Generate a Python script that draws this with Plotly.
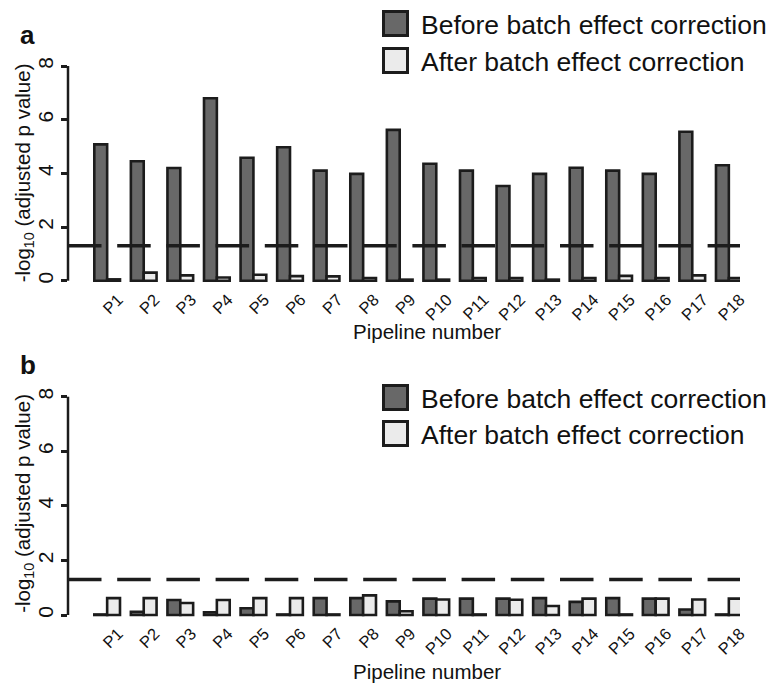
import plotly.graph_objects as go

# ---------------- data ----------------
pipelines = [f"P{i}" for i in range(1, 19)]

a_before = [5.08, 4.45, 4.2, 6.8, 4.58, 4.97, 4.1, 3.98, 5.62, 4.36, 4.1, 3.53, 3.98, 4.21, 4.1, 3.98, 5.55, 4.3]
a_after = [0.05, 0.3, 0.2, 0.12, 0.22, 0.17, 0.16, 0.1, 0.04, 0.04, 0.1, 0.1, 0.04, 0.1, 0.18, 0.1, 0.2, 0.1]

b_before = [0.02, 0.12, 0.55, 0.1, 0.25, 0.02, 0.62, 0.62, 0.5, 0.6, 0.6, 0.6, 0.62, 0.48, 0.62, 0.6, 0.2, 0.02]
b_after = [0.62, 0.62, 0.44, 0.55, 0.62, 0.62, 0.02, 0.72, 0.14, 0.57, 0.02, 0.56, 0.33, 0.6, 0.02, 0.6, 0.57, 0.6]

threshold = 1.3  # -log10(0.05)
y_ticks = [0, 2, 4, 6, 8]
series_names = ["Before batch effect correction", "After batch effect correction"]

# ---------------- styling ----------------
FONT = "Liberation Sans, Arial, Helvetica, sans-serif"
C_BEFORE = "#686868"
C_AFTER = "#ebebeb"
C_LINE = "#1c1c1c"
W, H = 774, 683
ML, MR, MT, MB = 68, 34, 63, 65
PH = H - MT - MB

def py2paper(py):
    return (H - MB - py) / PH

def px2paper(px):
    return (px - ML) / (W - ML - MR)

# panel geometry (pixel positions of value 0 and 8)
A0, A8 = 280.7, 66.0
B0, B8 = 615.0, 396.7
A_BOT, B_TOP = 284.0, 393.0

sa = (A0 - A8) / 8
sb = (B0 - B8) / 8
ya_range = [-(A_BOT - A0) / sa, 8 + (A8 - MT) / sa]
yb_range = [-(H - MB - B0) / sb, 8 + (B8 - B_TOP) / sb]

unit = 36.57
c0 = 107.15
x_range = [(ML - c0) / unit, (W - MR - c0) / unit]

fig = go.Figure()
for xa, ya, vb, va in [("x", "y", a_before, a_after), ("x2", "y2", b_before, b_after)]:
    fig.add_trace(go.Bar(x=pipelines, y=vb, name=series_names[0], xaxis=xa, yaxis=ya,
                         marker=dict(color=C_BEFORE, line=dict(color=C_LINE, width=2.6)),
                         showlegend=False))
    fig.add_trace(go.Bar(x=pipelines, y=va, name=series_names[1], xaxis=xa, yaxis=ya,
                         marker=dict(color=C_AFTER, line=dict(color=C_LINE, width=2.6)),
                         showlegend=False))

xcommon = dict(range=x_range, showline=False, showgrid=False, zeroline=False, ticks="",
               tickangle=-45, tickfont=dict(family=FONT, size=16.5, color="#111"),
               ticklabelshift=11, ticklabelstandoff=2)
ycommon = dict(showline=False, showgrid=False, zeroline=False, ticks="outside", ticklen=6,
               tickwidth=2.5, tickcolor=C_LINE, tickvals=y_ticks, tickangle=-90,
               tickfont=dict(family=FONT, size=21, color="#111"), ticklabelstandoff=0)

fig.update_layout(
    width=W, height=H,
    margin=dict(l=ML, r=MR, t=MT, b=MB),
    plot_bgcolor="white", paper_bgcolor="white",
    barmode="group", bargap=0.297, bargroupgap=0,
    xaxis=dict(domain=[0, 1], anchor="y", **xcommon),
    yaxis=dict(domain=[py2paper(A_BOT), 1], anchor="x", range=ya_range, **ycommon),
    xaxis2=dict(domain=[0, 1], anchor="y2", **xcommon),
    yaxis2=dict(domain=[0, py2paper(B_TOP)], anchor="x2", range=yb_range, **ycommon),
    showlegend=False,
)

shapes = []
for xd, yr in [("x domain", "y"), ("x2 domain", "y2")]:
    # y axis line (R style, from 0 to 8)
    shapes.append(dict(type="line", xref=xd, yref=yr, x0=0, x1=0, y0=y_ticks[0], y1=y_ticks[-1],
                       line=dict(color=C_LINE, width=2.5)))
    # significance threshold
    shapes.append(dict(type="line", xref=xd, yref=yr, x0=0, x1=1, y0=threshold, y1=threshold,
                       line=dict(color=C_LINE, width=3.5, dash="33.5px,15.7px")))

annotations = []
# legends (manual)
for rows in [(23.5, 60.5), (397.5, 433.5)]:
    for yc, color, name in zip(rows, [C_BEFORE, C_AFTER], series_names):
        shapes.append(dict(type="rect", xref="paper", yref="paper",
                           x0=px2paper(383.5), x1=px2paper(407.5),
                           y0=py2paper(yc + 12), y1=py2paper(yc - 12),
                           fillcolor=color, line=dict(color=C_LINE, width=3)))
        annotations.append(dict(text=name, xref="paper", yref="paper", x=px2paper(419),
                                y=py2paper(yc + 1), xanchor="left", yanchor="middle",
                                showarrow=False, font=dict(family=FONT, size=26.5, color="#111")))

# panel letters
for letter, yc in [("a", 35), ("b", 365)]:
    annotations.append(dict(text=f"<b>{letter}</b>", xref="paper", yref="paper",
                            x=px2paper(18), y=py2paper(yc), xanchor="left", yanchor="middle",
                            showarrow=False, font=dict(family=FONT, size=26, color="#111")))

# axis titles
for yc in [(A0 + A8) / 2, (B0 + B8) / 2 - 2]:
    annotations.append(dict(text="-log<sub>10</sub> (adjusted p value)", xref="paper", yref="paper",
                            x=px2paper(24), y=py2paper(yc), xanchor="center", yanchor="middle",
                            textangle=-90, showarrow=False,
                            font=dict(family=FONT, size=20.5, color="#111")))
for yc in [331, 671]:
    annotations.append(dict(text="Pipeline number", xref="paper", yref="paper",
                            x=px2paper(427), y=py2paper(yc), xanchor="center", yanchor="middle",
                            showarrow=False, font=dict(family=FONT, size=20.5, color="#111")))

fig.update_layout(shapes=shapes, annotations=annotations)
fig.write_html("out.html")
